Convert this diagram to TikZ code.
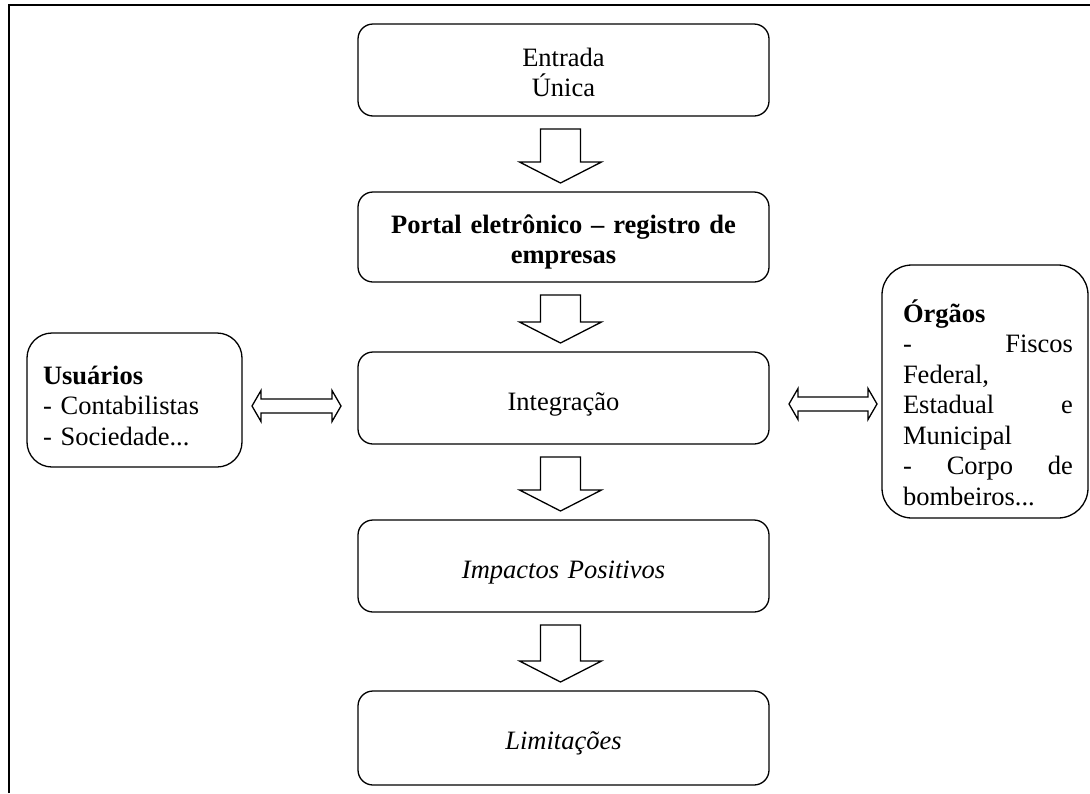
\documentclass[tikz,border=0pt]{standalone}
\usepackage{fontspec}
\setmainfont{Liberation Serif}
\usetikzlibrary{calc}
\newcommand{\blockdown}[2]{%
  \draw[barrow] let \p1=($(#1.south)+(-3,13)$), \p2=($(#2.north)+(-3,-9)$) in
    (\x1-20pt,\y1) -- (\x1+20pt,\y1) -- (\x1+20pt,\y2+21pt) -- (\x1+41pt,\y2+21pt)
    -- (\x1,\y2) -- (\x1-41pt,\y2+21pt) -- (\x1-20pt,\y2+21pt) -- cycle;}
\newcommand{\blockboth}[2]{%
  \draw[barrow] let \p1=#1, \p2=#2 in
    (\x1,\y1) -- (\x1+9pt,\y1+15.5pt) -- (\x1+9pt,\y1+7pt) -- (\x2-9pt,\y1+7pt)
    -- (\x2-9pt,\y1+15.5pt) -- (\x2,\y1) -- (\x2-9pt,\y1-15.5pt) -- (\x2-9pt,\y1-7pt)
    -- (\x1+9pt,\y1-7pt) -- (\x1+9pt,\y1-15.5pt) -- cycle;}
\begin{document}
\begin{tikzpicture}[x=1pt,y=-1pt,
  every node/.style={font=\fontsize{26.5}{30.5}\selectfont, inner sep=0pt, outer sep=0pt},
  box/.style={draw, line width=1.3pt, rounded corners=15pt, minimum width=411pt, minimum height=92pt},
  sidebox/.style={draw, line width=1.3pt, rounded corners=#1},
  ctext/.style={text width=400pt, align=center, anchor=base},
  barrow/.style={draw, line width=1.3pt, fill=white, line join=miter}]
\useasboundingbox (0,0) rectangle (1090,793);
\fill[white] (0,0) rectangle (1090,793);
% outer frame (clipped on right and bottom)
\coordinate (fr1) at (8.5,793);
\coordinate (fr2) at (8.5,5);
\coordinate (fr3) at (1090,5);
\draw[line width=2pt] (fr1) -- (fr2) -- (fr3);

% central boxes
\node[box] (entrada) at (563.5,70) {};
\node[ctext] (entradaT) at (563.5,66) {Entrada\\Única};

\node[box, minimum height=90pt] (portal) at (563.5,237) {};
\node[ctext] (portalT) at (563.5,233) {\bfseries Portal eletrônico – registro de\\empresas};

\node[box] (integ) at (563.5,398) {};
\node[ctext] (integT) at (563.5,410) {Integração};

\node[box] (impact) at (563.5,566) {};
\node[ctext] (impactT) at (563.5,578) {\itshape Impactos Positivos};

\node[box, minimum height=94pt] (limit) at (563.5,738) {};
\node[ctext] (limitT) at (563.5,749) {\itshape Limitações};

% side boxes
\node[sidebox=25pt, minimum width=215pt, minimum height=134pt] (usu) at (134.5,400) {};
\node[text width=190pt, align=left, anchor=base west] (usuT) at (43,384)
  {\textbf{Usuários}\\- Contabilistas\\- Sociedade...};

\node[sidebox=30pt, minimum width=206pt, minimum height=253pt] (org) at (985,391.5) {};
\node[text width=170pt, align=left, anchor=base west] (orgT) at (903,322)
  {\textbf{Órgãos}\\-\hfill Fiscos\\Federal,\\Estadual\hfill e\\Municipal\\-\hfill Corpo\hfill de\\bombeiros...};

% block arrows
\blockdown{entrada}{portal}
\blockdown{portal}{integ}
\blockdown{integ}{impact}
\blockdown{impact}{limit}

\coordinate (ly) at (0,406);
\coordinate (ry) at (0,404);
\blockboth{($(usu.east |- ly)+(10,0)$)}{($(integ.west |- ly)+(-17,0)$)}
\blockboth{($(integ.east |- ry)+(20,0)$)}{($(org.west |- ry)+(-5,0)$)}
\end{tikzpicture}
\end{document}
